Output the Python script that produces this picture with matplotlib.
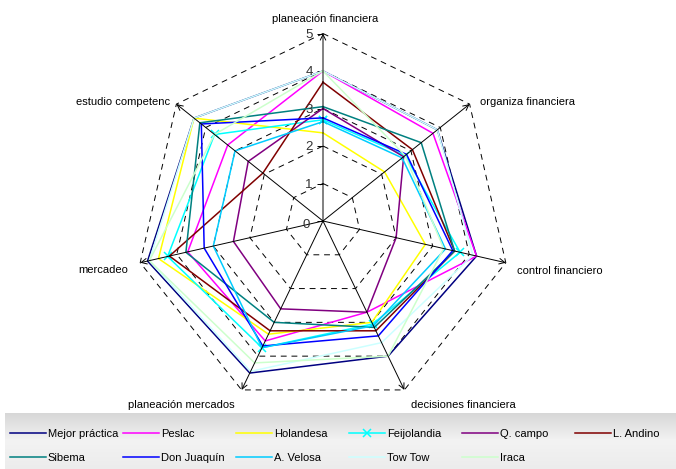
import numpy as np
import matplotlib.pyplot as plt
from matplotlib.colors import LinearSegmentedColormap

plt.rcParams['font.family'] = ['Liberation Sans', 'DejaVu Sans']

# axis categories, clockwise from the top
categories = ['planeación financiera', 'organiza financiera', 'control financiero',
              'decisiones financiera', 'planeación mercados', 'mercadeo', 'estudio competenc']

# scores per series (same order as categories)
mejor_practica = [4.0, 3.9, 4.2, 4.0, 4.5, 4.8, 4.4]
peslac = [4.0, 3.75, 4.2, 2.7, 3.55, 3.7, 3.25]
holandesa = [2.35, 2.1, 2.8, 3.0, 3.35, 4.5, 4.4]
feijolandia = [2.7, 2.8, 3.75, 3.05, 3.75, 4.25, 3.7]
q_campo = [3.0, 2.75, 2.0, 2.7, 2.6, 2.45, 2.55]
l_andino = [3.7, 3.05, 3.6, 3.25, 3.25, 4.2, 2.05]
sibema = [3.05, 3.35, 3.6, 3.15, 3.0, 3.75, 4.2]
don_juaquin = [2.75, 2.85, 3.55, 3.4, 3.7, 3.25, 4.15]
a_velosa = [2.65, 2.7, 3.35, 3.1, 3.75, 3.0, 3.0]
tow_tow = [4.0, 3.9, 4.1, 3.6, 4.45, 4.75, 4.4]
iraca = [4.0, 2.8, 3.3, 4.0, 4.2, 4.75, 3.7]

series_names = ['Mejor práctica', 'Peslac', 'Holandesa', 'Feijolandia', 'Q. campo', 'L. Andino',
                'Sibema', 'Don Juaquín', 'A. Velosa', 'Tow Tow', 'Iraca']
series_values = [mejor_practica, peslac, holandesa, feijolandia, q_campo, l_andino,
                 sibema, don_juaquin, a_velosa, tow_tow, iraca]
series_colors = ['#000080', '#FF00FF', '#FFFF00', '#00FFFF', '#800080', '#800000',
                 '#008080', '#0000FF', '#00CCFF', '#CCFFFF', '#CCFFCC']
ticks = [0, 1, 2, 3, 4, 5]

W, H = 676, 469
cx, cy, R = 323, 221, 187.5

fig = plt.figure(figsize=(W / 100, H / 100), dpi=100)

# gray gradient band behind the legend
ax_bg = fig.add_axes([5 / W, 0, 671 / W, 56 / H])
grad = np.linspace(0, 1, 100).reshape(-1, 1)
cmap = LinearSegmentedColormap.from_list('band', ['#D6D6D6', '#F3F3F3', '#ECECEC'])
ax_bg.imshow(grad, aspect='auto', cmap=cmap, extent=(0, 1, 0, 1))
ax_bg.axis('off')

ax = fig.add_axes([(cx - R) / W, (H - cy - R) / H, 2 * R / W, 2 * R / H], projection='polar')
ax.set_theta_zero_location('N')
ax.set_theta_direction(-1)
ax.set_ylim(0, 5)
ax.set_xticks([])
ax.set_yticks([])
ax.grid(False)
ax.spines['polar'].set_visible(False)
ax.patch.set_visible(False)

n = len(categories)
theta = np.arange(n) * 2 * np.pi / n
theta_closed = np.append(theta, theta[0])

# dashed heptagon grid
for r in ticks[1:]:
    ax.plot(theta_closed, [r] * (n + 1), color='black', lw=0.7, ls=(0, (6, 5)), clip_on=False)

# spokes with small arrow heads
for t in theta:
    ax.annotate('', xy=(t, 5), xytext=(t, 0),
                arrowprops=dict(arrowstyle='->,head_length=0.4,head_width=0.2',
                                color='black', lw=0.7, shrinkA=0, shrinkB=0))

# value ticks on the top axis
ax.plot([0] * len(ticks), ticks, ls='none', marker=0, ms=4, mew=0.7, color='black', clip_on=False)
for t in ticks:
    off = (-17, -4) if t == 0 else (-14, -1)
    ax.annotate(str(t), xy=(0, t), xytext=off, textcoords='offset pixels',
                ha='center', va='center', fontsize=9.5, color='#333333')

# series
handles = []
for name, vals, col in zip(series_names, series_values, series_colors):
    mk = 'x' if name == 'Feijolandia' else None
    h, = ax.plot(theta_closed, vals + [vals[0]], color=col, lw=1.1, marker=mk, ms=6,
                 mew=1.1, clip_on=False, label=name)
    handles.append(h)

# category labels
label_pos = [((2, 15), 'center'), ((10, 2), 'left'), ((11, -8), 'left'), ((7, -15), 'left'),
             ((-7, -15), 'right'), ((-12, -7), 'right'), ((-6, 2), 'right')]
for t, name, (off, ha) in zip(theta, categories, label_pos):
    ax.annotate(name, xy=(t, 5), xytext=off, textcoords='offset pixels',
                ha=ha, va='center', fontsize=8, color='black')

# legend: six columns, filled row by row
for k in range(6):
    hs = [handles[k]]
    if k + 6 < len(handles):
        hs.append(handles[k + 6])
    fig.legend(handles=hs, loc='upper left', bbox_to_anchor=((10 + 113 * k) / W, (H - 429) / H),
               frameon=False, prop={'size': 8}, handlelength=3.2, handletextpad=0.2,
               labelspacing=1.25, borderpad=0, borderaxespad=0)

fig.savefig('out.png', dpi=100)
